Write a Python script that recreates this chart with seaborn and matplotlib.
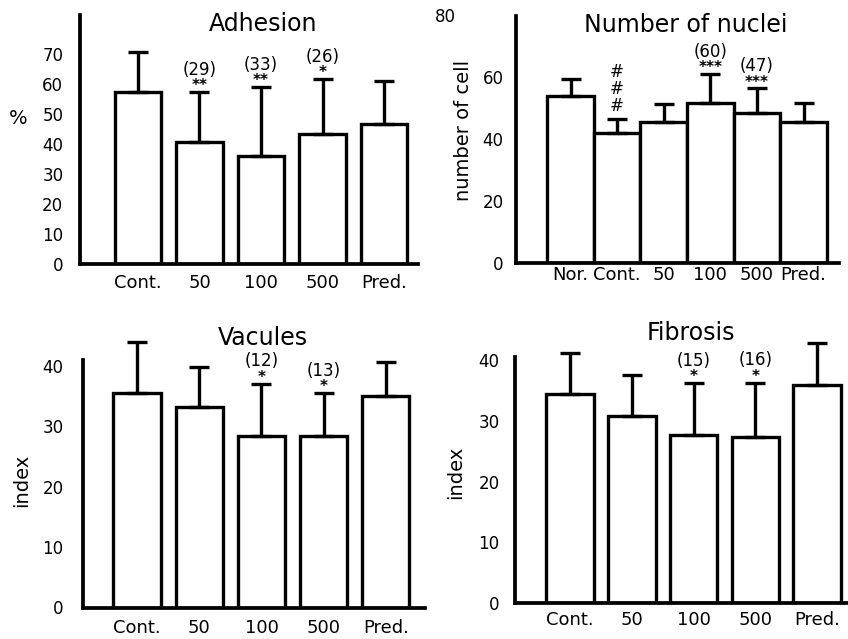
import numpy as np
import pandas as pd
import matplotlib
matplotlib.use("Agg")
import matplotlib.pyplot as plt
import matplotlib.transforms as mtransforms
import seaborn as sns

# ---------------- data ----------------
adh_groups = ["Cont.", "50", "100", "500", "Pred."]
adh_mean = [57.3, 40.7, 36.0, 43.3, 46.7]
adh_sd = [13.4, 16.6, 23.0, 18.4, 14.3]
adh_n = ["", "(29)", "(33)", "(26)", ""]
adh_sig = ["", "**", "**", "*", ""]
adh_yticks = [0, 10, 20, 30, 40, 50, 60, 70]

nuc_groups = ["Nor.", "Cont.", "50", "100", "500", "Pred."]
nuc_mean = [54.0, 42.0, 45.6, 51.7, 48.5, 45.6]
nuc_sd = [5.5, 4.5, 5.8, 9.4, 8.0, 6.1]
nuc_n = ["", "", "", "(60)", "(47)", ""]
nuc_sig = ["", "", "", "***", "***", ""]
nuc_hash = ["", "#", "", "", "", ""]
nuc_yticks = [0, 20, 40, 60, 80]

vac_groups = ["Cont.", "50", "100", "500", "Pred."]
vac_mean = [35.5, 33.2, 28.4, 28.4, 35.0]
vac_sd = [8.5, 6.6, 8.7, 7.1, 5.7]
vac_n = ["", "", "(12)", "(13)", ""]
vac_sig = ["", "", "*", "*", ""]
vac_yticks = [0, 10, 20, 30, 40]

fib_groups = ["Cont.", "50", "100", "500", "Pred."]
fib_mean = [34.4, 30.8, 27.6, 27.3, 35.9]
fib_sd = [6.7, 6.7, 8.6, 9.0, 6.9]
fib_n = ["", "", "(15)", "(16)", ""]
fib_sig = ["", "", "*", "*", ""]
fib_yticks = [0, 10, 20, 30, 40]

# ---------------- style ----------------
sns.set_theme(style="white")
plt.rcParams["font.family"] = ["DejaVu Sans"]
plt.rcParams["text.color"] = "black"
plt.rcParams["axes.labelcolor"] = "black"
plt.rcParams["xtick.color"] = "black"
plt.rcParams["ytick.color"] = "black"

W, H = 848, 639
fig = plt.figure(figsize=(W / 100, H / 100), dpi=100)


def px_axes(left, top, right, bottom):
    return fig.add_axes([left / W, (H - bottom) / H, (right - left) / W, (bottom - top) / H])


LW = 2.4


def draw(ax, groups, mean, sd, nlab, sig, title, ylabel, yticks, ylim, xlim,
         width, title_xy, ylabel_xy, ypad, xpad, ylabel_rot=90, hashes=None):
    df = pd.DataFrame({"group": groups, "value": mean})
    sns.barplot(data=df, x="group", y="value", ax=ax, color="white",
                edgecolor="black", linewidth=LW, width=width, errorbar=None,
                saturation=1)
    for i, p in enumerate(ax.patches):
        xc = p.get_x() + p.get_width() / 2
        top = p.get_height()
        e = sd[i]
        cont = ax.errorbar([xc], [top], yerr=[[0], [e]], fmt="none", ecolor="black",
                           elinewidth=LW, capsize=7, capthick=LW, zorder=3)
        for ch in cont.get_children():
            ch.set_clip_on(False)
        if sig[i]:
            ax.annotate(sig[i], (xc, top + e), xytext=(0, 4.5), textcoords="offset points",
                        ha="center", va="center", fontsize=11, fontweight="bold",
                        color="black", annotation_clip=False)
        if nlab[i]:
            ax.annotate(nlab[i], (xc, top + e), xytext=(0, 16), textcoords="offset points",
                        ha="center", va="center", fontsize=12, color="black",
                        annotation_clip=False)
        if hashes is not None and hashes[i]:
            for off in [9.5, 22, 34]:
                ax.annotate(hashes[i], (xc, top + e), xytext=(0, off),
                            textcoords="offset points", ha="center", va="center",
                            fontsize=12, style="italic", color="black",
                            annotation_clip=False)
    ax.set_xlim(*xlim)
    ax.set_ylim(*ylim)
    ax.set_yticks(yticks)
    ax.set_yticklabels([str(t) for t in yticks])
    ax.set_xlabel("")
    ax.set_ylabel(ylabel, fontsize=14, rotation=ylabel_rot,
                  va="center", ha="center", color="black")
    ax.yaxis.set_label_coords(*ylabel_xy)
    ax.tick_params(axis="y", length=0, pad=ypad, labelsize=12, colors="black")
    ax.tick_params(axis="x", length=0, pad=xpad, labelsize=13, colors="black")
    ax.text(title_xy[0], title_xy[1], title, transform=ax.transAxes, ha="center",
            va="center", fontsize=17, color="black", clip_on=False)
    sns.despine(ax=ax)
    for s in ["left", "bottom"]:
        ax.spines[s].set_linewidth(LW + 0.3)
        ax.spines[s].set_color("black")
    ax.set_facecolor("white")


ax1 = px_axes(80, 15, 418, 264)
draw(ax1, adh_groups, adh_mean, adh_sd, adh_n, adh_sig, "Adhesion", "%",
     adh_yticks, (0, 83), (-0.94, 4.55), 0.75, (0.541, 0.964), (-0.183, 0.586),
     ypad=12, xpad=7, ylabel_rot=0)

ax2 = px_axes(516, 15.5, 839, 263.3)
draw(ax2, nuc_groups, nuc_mean, nuc_sd, nuc_n, nuc_sig, "Number of nuclei",
     "number of cell", nuc_yticks, (0, 80), (-1.17, 5.76), 1.0, (0.526, 0.962),
     (-0.161, 0.538), ypad=9, xpad=2, hashes=nuc_hash)
# the "80" label sits further to the left in the original
lbl = ax2.get_yticklabels()[-1]
lbl.set_transform(lbl.get_transform() +
                  mtransforms.ScaledTranslation(-0.48, 0, fig.dpi_scale_trans))

ax3 = px_axes(83, 360, 425, 607.5)
draw(ax3, vac_groups, vac_mean, vac_sd, vac_n, vac_sig, "Vacules", "index",
     vac_yticks, (0, 41), (-0.87, 4.63), 0.76, (0.526, 1.089), (-0.178, 0.515),
     ypad=14, xpad=8)

ax4 = px_axes(515, 357, 848, 603)
draw(ax4, fib_groups, fib_mean, fib_sd, fib_n, fib_sig, "Fibrosis", "index",
     fib_yticks, (0, 40.5), (-0.89, 4.5), 0.77, (0.529, 1.098), (-0.177, 0.533),
     ypad=11, xpad=6)

fig.savefig("out.png", dpi=100, facecolor="white")
